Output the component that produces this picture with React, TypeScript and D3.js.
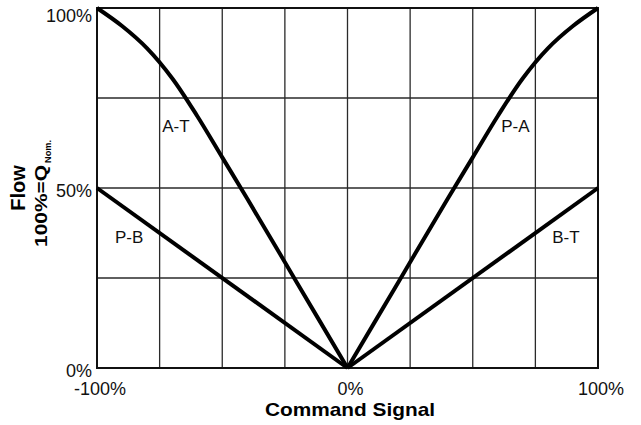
import React from "react";
import * as d3 from "d3";

// command signal (%) and flow (%)
const atCommand = [-100, -90, -80, -70, -60, -50, -40, -20, 0];
const atFlow = [100, 95, 88.8, 80.5, 70, 58.5, 47, 23.5, 0];
const paCommand = [0, 20, 40, 50, 60, 70, 80, 90, 100];
const paFlow = [0, 23.5, 47, 58.5, 70, 80.5, 88.8, 95, 100];
const pbCommand = [-100, 0];
const pbFlow = [50, 0];
const btCommand = [0, 100];
const btFlow = [0, 50];

const gridX = [-100, -75, -50, -25, 0, 25, 50, 75, 100];
const gridY = [0, 25, 50, 75, 100];
const xTickValues = [-100, 0, 100];
const xTickLabels = ["-100%", "0%", "100%"];
const yTickValues = [0, 50, 100];
const yTickLabels = ["0%", "50%", "100%"];

const seriesLabels = [
  { text: "A-T", c: -68.5, f: 65.6 },
  { text: "P-A", c: 67, f: 65.6 },
  { text: "P-B", c: -87.2, f: 34.7 },
  { text: "B-T", c: 87.2, f: 34.7 },
];

const W = 641;
const H = 425;
const font = "'Liberation Sans', Arial, Helvetica, sans-serif";

export default function App() {
  const x = d3.scaleLinear().domain([-100, 100]).range([97, 598]);
  const y = d3.scaleLinear().domain([0, 100]).range([368, 8]);

  const line = d3
    .line<[number, number]>()
    .x((d) => x(d[0]))
    .y((d) => y(d[1]))
    .curve(d3.curveCatmullRom.alpha(0.5));
  const straight = d3
    .line<[number, number]>()
    .x((d) => x(d[0]))
    .y((d) => y(d[1]));

  const zip = (a: number[], b: number[]) => a.map((v, i) => [v, b[i]] as [number, number]);

  return (
    <svg
      width={W}
      height={H}
      style={{ position: "absolute", left: 0, top: 0, background: "#fff" }}
    >
      {/* grid */}
      <g stroke="#2a2a2a" strokeWidth={1.3}>
        {gridX.map((v) => (
          <line key={"gx" + v} x1={x(v)} x2={x(v)} y1={y(0)} y2={y(100)} />
        ))}
        {gridY.map((v) => (
          <line key={"gy" + v} x1={x(-100)} x2={x(100)} y1={y(v)} y2={y(v)} />
        ))}
      </g>
      <rect
        x={x(-100)}
        y={y(100)}
        width={x(100) - x(-100)}
        height={y(0) - y(100)}
        fill="none"
        stroke="#111"
        strokeWidth={2}
      />

      {/* curves */}
      <g fill="none" stroke="#000" strokeWidth={4} strokeLinejoin="round">
        <path d={line(zip(atCommand, atFlow)) || ""} />
        <path d={line(zip(paCommand, paFlow)) || ""} />
        <path d={straight(zip(pbCommand, pbFlow)) || ""} />
        <path d={straight(zip(btCommand, btFlow)) || ""} />
      </g>

      {/* series labels */}
      <g fontFamily={font} fontSize={17} fill="#111">
        {seriesLabels.map((s) => (
          <text key={s.text} x={x(s.c)} y={y(s.f)} textAnchor="middle">
            {s.text}
          </text>
        ))}
      </g>

      {/* y tick labels */}
      <g fontFamily={font} fontSize={18} fill="#111" textAnchor="end">
        {yTickValues.map((v, i) => (
          <text key={"yt" + v} x={x(-100) - 5} y={Math.max(y(v) + 9, 22)}>
            {yTickLabels[i]}
          </text>
        ))}
      </g>

      {/* x tick labels */}
      <g fontFamily={font} fontSize={18} fill="#111" textAnchor="middle">
        {xTickValues.map((v, i) => (
          <text key={"xt" + v} x={x(v) + 3} y={395}>
            {xTickLabels[i]}
          </text>
        ))}
      </g>

      {/* axis titles */}
      <text
        x={350}
        y={416}
        textAnchor="middle"
        fontFamily={font}
        fontWeight="bold"
        fontSize={19}
        fill="#000"
        textLength={170}
        lengthAdjust="spacingAndGlyphs"
      >
        Command Signal
      </text>
      <text
        transform="translate(25,188) rotate(-90)"
        textAnchor="middle"
        fontFamily={font}
        fontWeight="bold"
        fontSize={20}
        fill="#000"
      >
        Flow
      </text>
      <text
        transform="translate(47,247) rotate(-90)"
        fontFamily={font}
        fontWeight="bold"
        fontSize={16}
        fill="#000"
        textLength={82}
        lengthAdjust="spacingAndGlyphs"
      >
        100%=Q
      </text>
      <text
        transform="translate(51,163) rotate(-90)"
        fontFamily={font}
        fontWeight="bold"
        fontSize={9}
        fill="#000"
        textLength={23}
        lengthAdjust="spacingAndGlyphs"
      >
        Nom.
      </text>
    </svg>
  );
}
